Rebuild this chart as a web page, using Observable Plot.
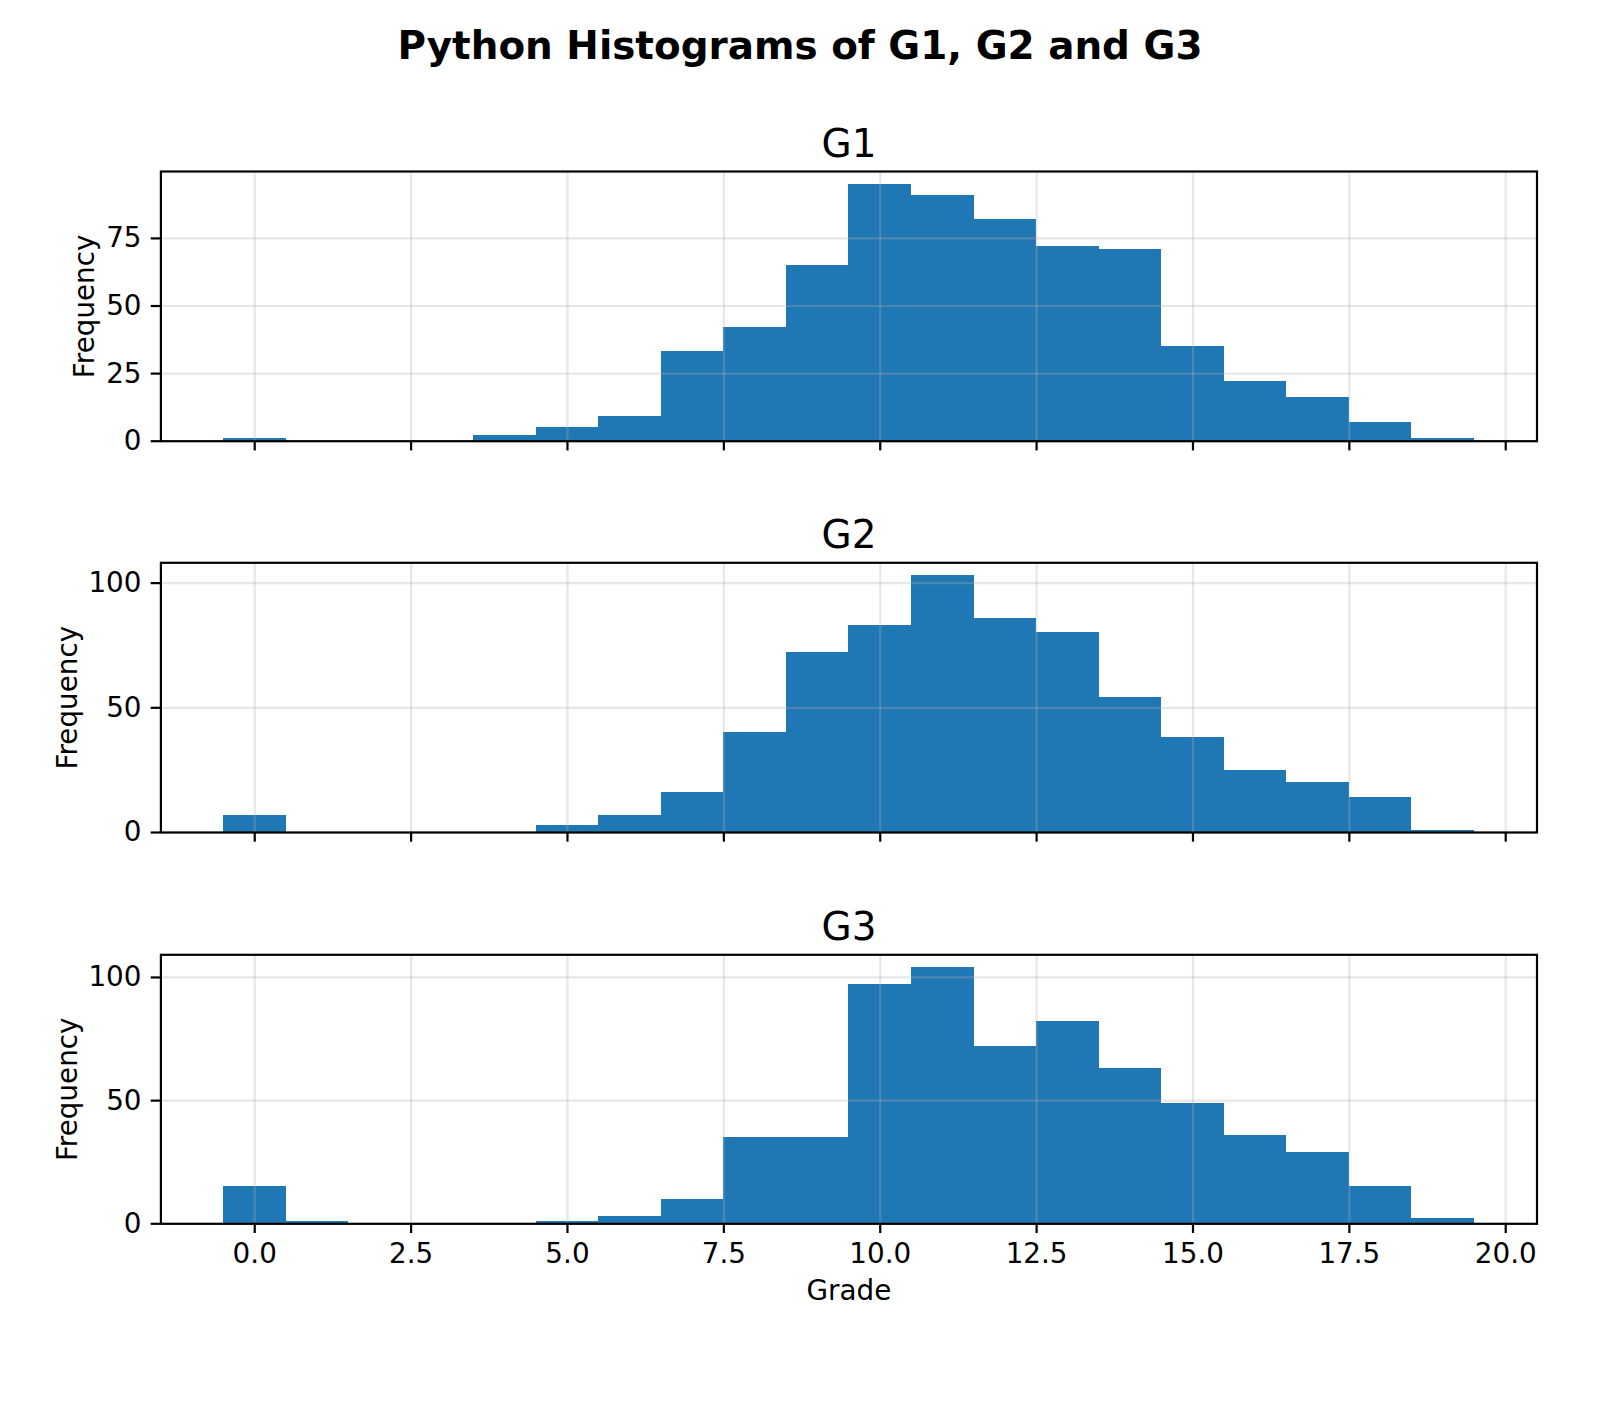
<!DOCTYPE html>
<html><head><meta charset="utf-8">
<script src="https://cdn.jsdelivr.net/npm/d3@7"></script>
<script src="https://cdn.jsdelivr.net/npm/@observablehq/plot@0.6"></script>
<style>
html,body{margin:0;padding:0;background:#fff;}
#root{position:relative;width:1600px;height:1423px;overflow:hidden;font-family:"DejaVu Sans";}
#title{position:absolute;left:0;width:1600px;top:27px;text-align:center;font-family:"DejaVu Sans";font-weight:bold;font-size:38.9px;line-height:38.9px;color:#000;white-space:nowrap;}
</style></head><body>
<div id="root"><div id="title">Python Histograms of G1, G2 and G3</div></div>
<script>
// Grade bins (centred on integer grades, width 1)
const grades = [0,1,2,3,4,5,6,7,8,9,10,11,12,13,14,15,16,17,18,19];
const g1Counts = [1,0,0,0,2,5,9,33,42,65,95,91,82,72,71,35,22,16,7,1];
const g2Counts = [7,0,0,0,0,3,7,16,40,72,83,103,86,80,54,38,25,20,14,1];
const g3Counts = [15,1,0,0,0,1,3,10,35,35,97,104,72,82,63,49,36,29,15,2];
const xTicks = [0,2.5,5,7.5,10,12.5,15,17.5,20];
const g1YTicks = [0,25,50,75];
const g2YTicks = [0,50,100];
const g3YTicks = [0,50,100];
const panelTitles = ["G1","G2","G3"];

const root = document.getElementById("root");
const FS = 27.8;

function makePanel({title, counts, yTicks, top, marginTop, marginBottom, height, showX, yLabelDx}) {
  const data = grades.map((g, i) => ({grade: g, count: counts[i]})).filter(d => d.count > 0);
  const ymax = d3.max(counts) * 1.05;
  const marks = [
    Plot.rect(data, {x1: d => d.grade - 0.5, x2: d => d.grade + 0.5, y1: d => 0, y2: d => d.count, fill: "#1f77b4", shapeRendering: "crispEdges"}),
    Plot.gridX(xTicks, {stroke: "#b0b0b0", strokeOpacity: 0.3, strokeWidth: 2.2}),
    Plot.gridY(yTicks, {stroke: "#b0b0b0", strokeOpacity: 0.3, strokeWidth: 2.2}),
    Plot.frame({stroke: "black", strokeWidth: 2.2}),
    Plot.axisX({ticks: xTicks, tickSize: 9.7, tickPadding: 9.7, strokeWidth: 2.2, stroke: "black", fill: "black",
      tickFormat: showX ? (d => d.toFixed(1)) : (() => ""), fontSize: FS, label: null}),
    Plot.axisY({ticks: yTicks, tickSize: 9.7, tickPadding: 9.7, strokeWidth: 2.2, stroke: "black", fill: "black",
      tickFormat: d => String(d), fontSize: FS, label: null}),
    Plot.text([title], {text: d => d, frameAnchor: "top", lineAnchor: "bottom", textAnchor: "middle", dy: -15, fontSize: 38.9, fill: "black"}),
    Plot.text(["Frequency"], {text: d => d, frameAnchor: "left", lineAnchor: "middle", textAnchor: "middle", rotate: -90, dx: yLabelDx, fontSize: FS, fill: "black"})
  ];
  if (showX) {
    marks.push(Plot.text(["Grade"], {text: d => d, frameAnchor: "bottom", lineAnchor: "bottom", textAnchor: "middle", dy: 75.7, fontSize: FS, fill: "black"}));
  }
  const svg = Plot.plot({
    width: 1600,
    height,
    marginLeft: 160.4,
    marginRight: 63.5,
    marginTop,
    marginBottom,
    x: {domain: [-1.5, 20.5]},
    y: {domain: [0, ymax]},
    style: {fontFamily: "DejaVu Sans", fontSize: FS + "px", color: "black", background: "transparent", overflow: "visible"},
    marks
  });
  svg.style.position = "absolute";
  svg.style.left = "0px";
  svg.style.top = top + "px";
  root.appendChild(svg);
}

makePanel({title: panelTitles[0], counts: g1Counts, yTicks: g1YTicks, top: 90, marginTop: 81, marginBottom: 59.3, height: 410, showX: false, yLabelDx: -76});
makePanel({title: panelTitles[1], counts: g2Counts, yTicks: g2YTicks, top: 500, marginTop: 62.3, marginBottom: 58, height: 390, showX: false, yLabelDx: -92.6});
makePanel({title: panelTitles[2], counts: g3Counts, yTicks: g3YTicks, top: 890, marginTop: 64.3, marginBottom: 199.7, height: 533, showX: true, yLabelDx: -92.6});
</script>
</body></html>
